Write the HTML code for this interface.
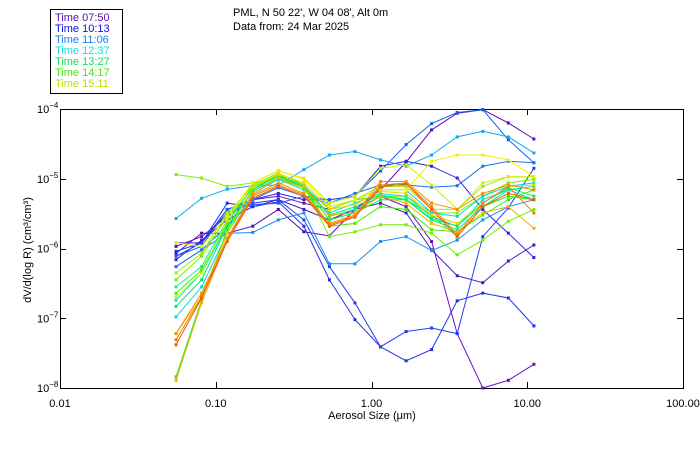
<!DOCTYPE html>
<html><head><meta charset="utf-8"><style>
body{margin:0;background:#fff;}
svg{display:block;font-family:"Liberation Sans","DejaVu Sans",sans-serif;}
</style></head><body>
<svg id="chart" width="700" height="450" viewBox="0 0 700 450">
<rect x="0" y="0" width="700" height="450" fill="#fff"/>
<g>
<rect x="50.5" y="9.5" width="72" height="84" fill="#fff" stroke="#000"/>
<text x="55" y="21" font-size="11" fill="#6010b0">Time 07:50</text>
<text x="55" y="32" font-size="11" fill="#1010e0">Time 10:13</text>
<text x="55" y="43" font-size="11" fill="#1080f0">Time 11:06</text>
<text x="55" y="54" font-size="11" fill="#10e0e0">Time 12:37</text>
<text x="55" y="65" font-size="11" fill="#10e060">Time 13:27</text>
<text x="55" y="76" font-size="11" fill="#50e010">Time 14:17</text>
<text x="55" y="87" font-size="11" fill="#c0e000">Time 15:11</text>
</g>
<text x="233" y="16" font-size="11" fill="#000">PML, N 50 22', W 04 08', Alt 0m</text>
<text x="233" y="30" font-size="11" fill="#000">Data from: 24 Mar 2025</text>
<rect x="60.5" y="109.5" width="623" height="279" fill="none" stroke="#000"/>
<g id="axes"></g>
<g id="series"></g>
<text x="372" y="419" font-size="11" text-anchor="middle">Aerosol Size (μm)</text>
<text transform="translate(31,250) rotate(-90)" font-size="11" text-anchor="middle">dV/d(log R) (cm³/cm³)</text>
</svg>
<script>
const sizes = [0.0556,0.0811,0.1184,0.1728,0.2521,0.368,0.537,0.783,1.143,1.668,2.43,3.55,5.18,7.56,11.03];
const xTicks = [0.01,0.1,1,10,100];
const xTickLabels = ["0.01","0.10","1.00","10.00","100.00"];
const yTickExps = [-8,-7,-6,-5,-4];
const seriesColors = ["#5a0ab8","#6a10c0","#4818c8","#3020d8","#2030e8","#2040f0","#1060f0","#10a8f0","#1890f0","#2070f0","#80f000","#00d8f0","#00e8d0","#00f0a0","#00f060","#20f020","#40f000","#70f000","#a0f000","#d0f000","#f0f000","#f0d000","#f0b000","#f08010","#f06000","#f09000"];
// log10 of dV/d(log R) per series
const s01 = [-6.07,-5.78,-5.78,-5.68,-5.44,-5.76,-5.82,-5.44,-5.16,-4.76,-4.30,-4.06,-4.01,-4.20,-4.43];
const s02 = [-5.97,-5.83,-5.54,-5.30,-5.25,-5.35,-5.44,-5.30,-5.25,-5.40,-5.90,-7.22,-8.00,-7.89,-7.66];
const s03 = [-6.16,-5.88,-5.59,-5.40,-5.30,-5.44,-5.59,-5.44,-5.35,-5.49,-6.02,-6.39,-6.49,-6.18,-5.95];
const s04 = [-5.92,-5.92,-5.44,-5.30,-5.21,-5.30,-5.30,-5.25,-4.82,-4.75,-4.82,-4.99,-5.44,-5.78,-6.13];
const s05 = [-6.04,-5.92,-5.35,-5.40,-5.33,-5.68,-6.45,-7.02,-7.41,-7.61,-7.45,-6.75,-6.64,-6.71,-7.11];
const s06 = [-6.11,-5.92,-5.49,-5.35,-5.30,-5.59,-6.26,-6.78,-7.41,-7.19,-7.14,-7.22,-5.83,-5.42,-4.85];
const s07 = [-6.11,-5.97,-5.44,-5.37,-5.35,-5.25,-5.30,-5.25,-4.89,-4.51,-4.21,-4.05,-4.01,-4.44,-4.77];
const s08 = [-5.57,-5.28,-5.15,-5.10,-5.09,-4.87,-4.66,-4.61,-4.73,-4.82,-4.66,-4.40,-4.32,-4.40,-4.63];
const s09 = [-6.26,-6.02,-5.78,-5.77,-5.59,-5.49,-6.22,-6.22,-5.90,-5.83,-6.03,-5.88,-5.59,-5.40,-5.30];
const s10 = [-6.26,-6.02,-5.68,-5.30,-5.13,-5.25,-5.35,-5.21,-5.09,-5.09,-5.12,-5.10,-4.82,-4.75,-4.77];
const s11 = [-4.94,-4.99,-5.11,-5.06,-5.01,-5.16,-5.40,-5.30,-5.25,-5.25,-5.49,-5.49,-5.25,-5.06,-5.01];
const s12 = [-6.98,-6.55,-5.78,-5.21,-5.01,-5.11,-5.44,-5.30,-5.16,-5.16,-5.49,-5.54,-5.25,-5.11,-5.06];
const s13 = [-6.74,-6.35,-5.68,-5.18,-4.99,-5.16,-5.49,-5.35,-5.21,-5.25,-5.54,-5.68,-5.30,-5.16,-5.30];
const s14 = [-6.55,-6.26,-5.59,-5.13,-4.97,-5.11,-5.54,-5.44,-5.25,-5.30,-5.59,-5.73,-5.40,-5.16,-5.11];
const s15 = [-6.83,-6.45,-5.68,-5.16,-4.96,-5.09,-5.52,-5.40,-5.23,-5.30,-5.57,-5.68,-5.35,-5.13,-5.25];
const s16 = [-7.84,-6.74,-5.73,-5.16,-4.94,-5.13,-5.59,-5.49,-5.30,-5.30,-5.52,-5.83,-5.40,-5.25,-5.30];
const s17 = [-6.64,-6.31,-5.64,-5.11,-4.97,-5.13,-5.68,-5.64,-5.40,-5.44,-5.73,-5.76,-5.52,-5.30,-5.16];
const s18 = [-6.45,-6.11,-5.54,-5.09,-4.92,-5.09,-5.83,-5.76,-5.66,-5.66,-5.78,-6.09,-5.88,-5.61,-5.44];
const s19 = [-6.35,-6.07,-5.49,-5.11,-4.94,-5.06,-5.44,-5.30,-5.11,-5.11,-5.44,-5.44,-5.11,-4.97,-4.97];
const s20 = [-6.69,-6.35,-5.59,-5.06,-4.89,-4.99,-5.35,-5.25,-4.85,-4.80,-5.09,-5.44,-5.06,-4.97,-4.97];
const s21 = [-5.92,-5.97,-5.54,-5.06,-4.88,-5.01,-5.40,-5.30,-5.16,-5.16,-4.75,-4.66,-4.66,-4.73,-4.97];
const s22 = [-7.22,-6.69,-5.78,-5.13,-4.93,-5.06,-5.44,-5.37,-5.18,-5.21,-5.52,-5.64,-5.35,-5.11,-5.09];
const s23 = [-7.89,-6.78,-5.88,-5.21,-4.99,-5.13,-5.52,-5.49,-5.25,-5.35,-5.64,-5.76,-5.49,-5.40,-5.71];
const s24 = [-7.31,-6.69,-5.88,-5.25,-5.09,-5.23,-5.66,-5.54,-5.09,-5.06,-5.40,-5.80,-5.35,-5.11,-5.49];
const s25 = [-7.38,-6.71,-5.90,-5.28,-5.11,-5.25,-5.68,-5.55,-5.12,-5.07,-5.44,-5.83,-5.40,-5.21,-5.30];
const s26 = [-7.22,-6.64,-5.85,-5.23,-5.06,-5.21,-5.64,-5.52,-5.04,-5.04,-5.35,-5.44,-5.21,-5.09,-5.16];
const allSeries = [s01,s02,s03,s04,s05,s06,s07,s08,s09,s10,s11,s12,s13,s14,s15,s16,s17,s18,s19,s20,s21,s22,s23,s24,s25,s26];

const NS = "http://www.w3.org/2000/svg";
const L = 60, R = 683, T = 109, B = 388;
function xScale(v){ return L + (Math.log10(v) + 2) / 4 * (R - L); }
function yScale(logv){ return B - (logv + 8) / 4 * (B - T); }
function mk(tag, attrs, parent){ const e = document.createElementNS(NS, tag); for (const k in attrs) e.setAttribute(k, attrs[k]); parent.appendChild(e); return e; }

const axes = document.getElementById('axes');
xTicks.forEach((t, i) => {
  const x = Math.round(xScale(t)) + 0.5;
  const t1 = mk('line', {x1:x, x2:x, y1:B, y2:B-6, stroke:'#000'}, axes);
  
  
  const t2 = mk('line', {x1:x, x2:x, y1:T, y2:T+6, stroke:'#000'}, axes);
  
  
  const lb = mk('text', {x:xScale(t), y:407, 'font-size':11, 'text-anchor':'middle'}, axes);
  lb.textContent = xTickLabels[i];
  
  
});
yTickExps.forEach(e => {
  const y = Math.round(yScale(e)) + 0.5;
  const t1 = mk('line', {x1:L, x2:L+6, y1:y, y2:y, stroke:'#000'}, axes);
  
  
  const t2 = mk('line', {x1:R, x2:R-6, y1:y, y2:y, stroke:'#000'}, axes);
  
  
  const lb = mk('text', {x:37, y:yScale(e)+4, 'font-size':11}, axes);
  
  
  lb.textContent = '10';
  const sup = mk('tspan', {dy:-5, 'font-size':8}, lb);
  sup.textContent = '\u2212' + (-e);
});

const sg = document.getElementById('series');
allSeries.forEach((s, si) => {
  const g = mk('g', {}, sg);
  
  
  const pts = s.map((v, i) => xScale(sizes[i]).toFixed(1) + ',' + yScale(v).toFixed(1)).join(' ');
  const pl = mk('polyline', {points:pts, fill:'none', stroke:seriesColors[si], 'stroke-width':1}, g);
  
  
  s.forEach((v, i) => {
    const m = mk('rect', {x:xScale(sizes[i])-1.5, y:yScale(v)-1.5, width:3, height:3, fill:seriesColors[si]}, g);
    
    
  });
});
</script>
</body></html>
